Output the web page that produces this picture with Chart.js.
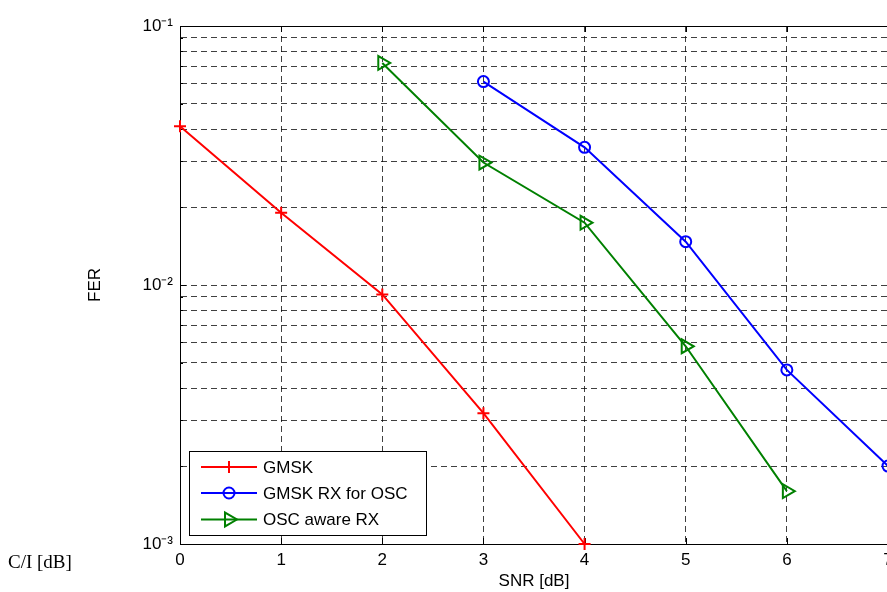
<!DOCTYPE html>
<html>
<head>
<meta charset="utf-8">
<script src="https://cdn.jsdelivr.net/npm/chart.js@4.4.1/dist/chart.umd.min.js"></script>
<style>
html,body{margin:0;padding:0;background:#fff;overflow:hidden;width:887px;height:592px;}
#wrap{position:absolute;left:0;top:0;width:920px;height:592px;}
#ci{position:absolute;left:8px;top:550px;font-family:"Liberation Serif","Times New Roman",serif;font-size:19px;line-height:24px;color:#000;white-space:nowrap;}
</style>
</head>
<body>
<div id="wrap"><canvas id="c"></canvas></div>
<div id="ci">C/I [dB]</div>
<script>
// ---- data ----
const snrTicks = [0, 1, 2, 3, 4, 5, 6, 7];
const gmskSNR = [0, 1, 2, 3, 4];
const gmskFER = [0.041, 0.019, 0.0092, 0.0032, 0.001];
const oscRxSNR = [3, 4, 5, 6, 7];
const oscRxFER = [0.061, 0.034, 0.0147, 0.0047, 0.002];
const awareSNR = [2, 3, 4, 5, 6];
const awareFER = [0.072, 0.0297, 0.0174, 0.0058, 0.0016];
const seriesNames = ['GMSK', 'GMSK RX for OSC', 'OSC aware RX'];
const ferDecades = [0.001, 0.01, 0.1];
const ferDecadeLabels = ['10⁻³', '10⁻²', '10⁻¹'];
const xTitle = 'SNR [dB]';
const yTitle = 'FER';

const FONT = '"Liberation Sans", Arial, Helvetica, sans-serif';

function mkSet(label, xs, ys, color, style, radius, rot) {
  return {
    label: label,
    data: xs.map((x, i) => ({x: x, y: ys[i]})),
    borderColor: color,
    backgroundColor: 'rgba(0,0,0,0)',
    borderWidth: 2,
    pointStyle: style,
    pointRadius: radius,
    pointHoverRadius: radius,
    pointBorderWidth: 2,
    pointBorderColor: color,
    pointBackgroundColor: 'rgba(0,0,0,0)',
    pointRotation: rot,
    tension: 0,
    fill: false,
    clip: false
  };
}

function drawMarker(ctx, style, x, y, r, rot) {
  ctx.beginPath();
  if (style === 'cross') {
    ctx.moveTo(x - r, y); ctx.lineTo(x + r, y);
    ctx.moveTo(x, y - r); ctx.lineTo(x, y + r);
  } else if (style === 'circle') {
    ctx.arc(x, y, r, 0, Math.PI * 2);
  } else if (style === 'triangle') {
    for (let i = 0; i < 3; i++) {
      const a = rot * Math.PI / 180 + i * 2 * Math.PI / 3;
      const vx = x + Math.sin(a) * r, vy = y - Math.cos(a) * r;
      if (i === 0) ctx.moveTo(vx, vy); else ctx.lineTo(vx, vy);
    }
    ctx.closePath();
  }
  ctx.stroke();
}

const framePlugin = {
  id: 'frame',
  beforeDatasetsDraw(chart) {
    const ctx = chart.ctx, a = chart.chartArea;
    const xs = chart.scales.x, ys = chart.scales.y;
    ctx.save();
    ctx.strokeStyle = '#000';
    ctx.lineWidth = 1;
    ctx.setLineDash([]);
    ctx.strokeRect(Math.round(a.left) + 0.5, Math.round(a.top) + 0.5,
                   Math.round(a.right - a.left), Math.round(a.bottom - a.top));
    ctx.beginPath();
    snrTicks.forEach(v => {
      const px = Math.round(xs.getPixelForValue(v)) + 0.5;
      ctx.moveTo(px, a.bottom); ctx.lineTo(px, a.bottom - 6);
      ctx.moveTo(px, a.top); ctx.lineTo(px, a.top + 6);
    });
    ys.ticks.forEach(t => {
      const py = Math.round(ys.getPixelForValue(t.value)) + 0.5;
      const isDec = ferDecades.some(d => Math.abs(d - t.value) < 1e-12);
      ctx.moveTo(a.left, py); ctx.lineTo(a.left + (isDec ? 6 : 3), py);
    });
    ctx.stroke();
    ctx.restore();
  }
};

const legendPlugin = {
  id: 'boxLegend',
  afterDatasetsDraw(chart) {
    const ctx = chart.ctx, a = chart.chartArea;
    const bx = a.left + 9, by = a.bottom - 93, bw = 237, bh = 84;
    ctx.save();
    ctx.fillStyle = '#fff';
    ctx.fillRect(bx, by, bw, bh);
    ctx.strokeStyle = '#000';
    ctx.lineWidth = 1;
    ctx.setLineDash([]);
    ctx.strokeRect(Math.round(bx) + 0.5, Math.round(by) + 0.5, bw, bh);
    const rows = [16, 42, 68.5];
    chart.data.datasets.forEach((d, i) => {
      const y = by + rows[i];
      ctx.strokeStyle = d.borderColor;
      ctx.lineWidth = 2;
      ctx.beginPath();
      ctx.moveTo(bx + 12, y); ctx.lineTo(bx + 68, y);
      ctx.stroke();
      drawMarker(ctx, d.pointStyle, bx + 40, y, d.pointRadius, d.pointRotation);
      ctx.fillStyle = '#000';
      ctx.font = '17px ' + FONT;
      ctx.textBaseline = 'middle';
      ctx.textAlign = 'left';
      ctx.fillText(d.label, bx + 74, y + 1);
    });
    ctx.restore();
  }
};

new Chart(document.getElementById('c'), {
  type: 'line',
  data: {
    datasets: [
      mkSet(seriesNames[0], gmskSNR, gmskFER, '#ff0000', 'cross', 6, 0),
      mkSet(seriesNames[1], oscRxSNR, oscRxFER, '#0000ff', 'circle', 5.5, 0),
      mkSet(seriesNames[2], awareSNR, awareFER, '#008000', 'triangle', 8, 90)
    ]
  },
  options: {
    responsive: true,
    maintainAspectRatio: false,
    animation: false,
    events: [],
    layout: {padding: {left: 81, top: 26, right: 32, bottom: 0}},
    plugins: {legend: {display: false}, tooltip: {enabled: false}},
    scales: {
      x: {
        type: 'linear', min: 0, max: 7,
        afterBuildTicks: s => { s.ticks = snrTicks.map(v => ({value: v})); },
        afterFit: s => { s.height = 48; },
        ticks: {stepSize: 1, color: '#000', padding: 6, font: {family: FONT, size: 17}, maxRotation: 0, autoSkip: false},
        grid: {color: 'rgba(0,0,0,0.75)', lineWidth: 1, drawTicks: false},
        border: {display: true, color: '#000', width: 1, dash: [6, 4]},
        title: {display: true, text: xTitle, color: '#000', font: {family: FONT, size: 17}, padding: {top: 0, bottom: 0}}
      },
      y: {
        type: 'logarithmic', min: 0.001, max: 0.1,
        afterBuildTicks: s => {
          const t = [];
          [0.001, 0.01].forEach(d => { for (let m = 1; m <= 9; m++) t.push({value: +(m * d).toPrecision(6)}); });
          t.push({value: 0.1});
          s.ticks = t;
        },
        afterFit: s => { s.width = 99; },
        ticks: {
          color: '#000', padding: 7, autoSkip: false,
          font: {family: FONT, size: 17},
          callback: v => {
            const i = ferDecades.findIndex(d => Math.abs(d - v) < 1e-12);
            return i >= 0 ? ferDecadeLabels[i] : '';
          }
        },
        grid: {color: 'rgba(0,0,0,0.75)', lineWidth: 1, drawTicks: false},
        border: {display: true, color: '#000', width: 1, dash: [6, 4]},
        title: {display: true, text: yTitle, color: '#000', font: {family: FONT, size: 17}}
      }
    }
  },
  plugins: [framePlugin, legendPlugin]
});
</script>
</body>
</html>
